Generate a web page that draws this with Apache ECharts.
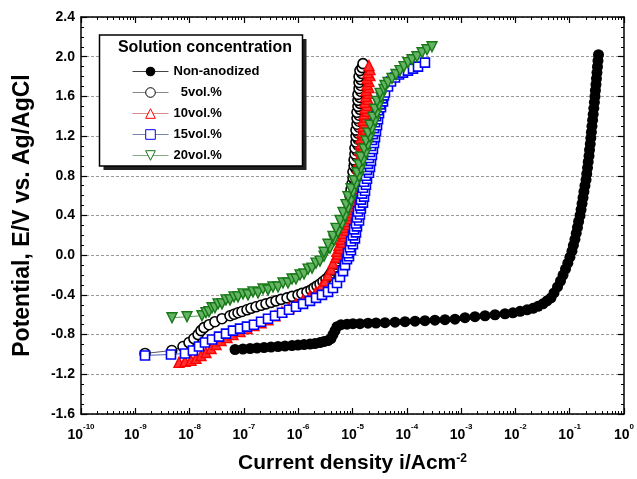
<!DOCTYPE html>
<html>
<head>
<meta charset="utf-8">
<script src="https://cdn.jsdelivr.net/npm/echarts@6/dist/echarts.min.js"></script>
<style>
  html, body { margin: 0; padding: 0; background: #fff; }
  #chart { width: 637px; height: 479px; }
</style>
</head>
<body>
<div id="chart"></div>
<script>
// Potentiodynamic polarization curves: current density (A/cm^2) vs potential (V vs Ag/AgCl)
const FONT = 'Arial, "Liberation Sans", Helvetica, sans-serif';

const seriesNames = ['Non-anodized', '5vol.%', '10vol.%', '15vol.%', '20vol.%'];
const decadeExponents = [-10, -9, -8, -7, -6, -5, -4, -3, -2, -1, 0];
const potentialTicks = [-1.6, -1.2, -0.8, -0.4, 0.0, 0.4, 0.8, 1.2, 1.6, 2.0, 2.4];

// Non-anodized
const naCurrent = [
  6.86e-8, 9.6e-8, 1.30e-7, 1.74e-7, 2.35e-7, 3.16e-7, 4.25e-7, 5.71e-7, 7.70e-7, 9.9e-7,
  1.28e-6, 1.65e-6, 2.04e-6, 2.52e-6, 2.98e-6, 3.54e-6, 4.02e-6, 4.37e-6, 4.76e-6, 5.18e-6,
  6.15e-6, 7.92e-6, 1.02e-5, 1.37e-5, 1.93e-5, 2.71e-5, 3.97e-5, 6.07e-5, 9.27e-5, 1.42e-4,
  2.16e-4, 3.30e-4, 5.05e-4, 7.72e-4, 1.18e-3, 1.80e-3, 2.76e-3, 4.21e-3, 6.44e-3, 9.0e-3,
  1.22e-2, 1.64e-2, 2.11e-2, 2.61e-2, 3.22e-2, 3.82e-2, 4.52e-2,
  5.14e-2, 5.96e-2, 6.77e-2, 7.54e-2, 8.37e-2, 9.23e-2, 1.01e-1, 1.10e-1, 1.17e-1, 1.25e-1,
  1.32e-1, 1.39e-1, 1.46e-1, 1.55e-1, 1.62e-1, 1.69e-1, 1.76e-1, 1.83e-1, 1.91e-1, 2.00e-1,
  2.06e-1, 2.13e-1, 2.19e-1, 2.27e-1, 2.32e-1, 2.39e-1, 2.45e-1, 2.51e-1, 2.57e-1, 2.64e-1,
  2.71e-1, 2.78e-1, 2.85e-1, 2.92e-1, 2.98e-1, 3.05e-1, 3.11e-1, 3.18e-1, 3.25e-1, 3.32e-1, 3.39e-1
];
const naPotential = [
  -0.95, -0.945, -0.94, -0.935, -0.93, -0.925, -0.92, -0.915, -0.91, -0.905,
  -0.90, -0.895, -0.89, -0.88, -0.87, -0.86, -0.84, -0.80, -0.76, -0.72,
  -0.70, -0.695, -0.69, -0.69, -0.685, -0.683, -0.68, -0.675, -0.67, -0.665,
  -0.66, -0.655, -0.65, -0.645, -0.63, -0.62, -0.61, -0.60, -0.59, -0.58,
  -0.565, -0.55, -0.535, -0.515, -0.49, -0.46, -0.43,
  -0.38, -0.32, -0.26, -0.20, -0.14, -0.08, -0.02, 0.04, 0.10, 0.16,
  0.22, 0.28, 0.34, 0.40, 0.46, 0.52, 0.58, 0.64, 0.70, 0.76,
  0.82, 0.88, 0.94, 1.00, 1.06, 1.12, 1.18, 1.24, 1.30, 1.36,
  1.42, 1.48, 1.54, 1.60, 1.66, 1.72, 1.78, 1.84, 1.90, 1.96, 2.02
];

// 5 vol.%
const vol5Current = [
  1.51e-9, 4.7e-9, 7.56e-9, 9.75e-9, 1.20e-8, 1.43e-8, 1.62e-8, 1.84e-8, 2.28e-8, 2.93e-8,
  3.95e-8, 5.55e-8, 6.58e-8, 7.78e-8, 9.23e-8, 1.14e-7, 1.35e-7, 1.67e-7, 2.07e-7, 2.55e-7,
  3.16e-7, 3.90e-7, 4.82e-7, 6.22e-7, 7.70e-7, 9.92e-7, 1.17e-6, 1.45e-6, 1.72e-6, 1.95e-6,
  2.22e-6, 2.52e-6, 2.86e-6, 3.25e-6, 3.69e-6, 4.02e-6, 4.37e-6, 4.76e-6, 4.97e-6, 5.18e-6,
  5.64e-6, 5.89e-6,
  6.41e-6, 6.14e-6, 7.28e-6, 6.97e-6, 7.92e-6, 7.59e-6, 8.26e-6, 7.92e-6, 8.99e-6, 8.26e-6,
  9.38e-6, 8.62e-6, 9.79e-6, 8.99e-6, 1.02e-5, 9.38e-6,
  9.38e-6, 8.99e-6, 9.79e-6, 8.99e-6, 1.02e-5, 9.38e-6, 1.07e-5, 9.79e-6, 1.11e-5, 1.02e-5,
  1.11e-5, 1.02e-5, 1.16e-5, 1.07e-5, 1.16e-5, 1.07e-5, 1.21e-5, 1.11e-5, 1.21e-5, 1.11e-5,
  1.26e-5, 1.16e-5, 1.26e-5, 1.16e-5, 1.26e-5, 1.16e-5, 1.32e-5, 1.21e-5, 1.32e-5, 1.21e-5,
  1.32e-5, 1.21e-5, 1.37e-5, 1.26e-5, 1.37e-5, 1.26e-5, 1.37e-5, 1.26e-5, 1.43e-5, 1.32e-5,
  1.43e-5, 1.32e-5, 1.43e-5, 1.32e-5, 1.50e-5, 1.37e-5, 1.50e-5, 1.56e-5
];
const vol5Potential = [
  -0.99, -0.96, -0.92, -0.88, -0.84, -0.80, -0.76, -0.73, -0.70, -0.67,
  -0.64, -0.61, -0.595, -0.58, -0.567, -0.55, -0.535, -0.52, -0.505, -0.49,
  -0.475, -0.46, -0.445, -0.43, -0.415, -0.40, -0.385, -0.37, -0.35, -0.33,
  -0.31, -0.29, -0.265, -0.24, -0.21, -0.18, -0.15, -0.12, -0.09, -0.06,
  -0.03, 0.00,
  0.03, 0.06, 0.09, 0.12, 0.15, 0.18, 0.21, 0.24, 0.27, 0.30,
  0.33, 0.36, 0.39, 0.42, 0.45, 0.48,
  0.51, 0.54, 0.57, 0.60, 0.63, 0.66, 0.69, 0.72, 0.75, 0.78,
  0.81, 0.84, 0.87, 0.90, 0.93, 0.96, 0.99, 1.02, 1.05, 1.08,
  1.11, 1.14, 1.17, 1.20, 1.23, 1.26, 1.29, 1.32, 1.35, 1.38,
  1.41, 1.44, 1.47, 1.50, 1.53, 1.56, 1.59, 1.62, 1.65, 1.68,
  1.71, 1.74, 1.77, 1.80, 1.83, 1.86, 1.89, 1.93
];

// 10 vol.%
const vol10Current = [
  6.38e-9, 8.23e-9, 1.06e-8, 1.31e-8, 1.62e-8, 2.0e-8, 2.48e-8, 3.06e-8, 3.79e-8, 4.88e-8,
  6.29e-8, 8.48e-8, 1.14e-7, 1.53e-7, 2.07e-7, 2.78e-7, 3.74e-7, 5.03e-7, 6.77e-7, 9.1e-7,
  1.23e-6, 1.65e-6, 2.13e-6, 2.63e-6, 3.11e-6, 3.54e-6, 4.02e-6, 4.37e-6,
  4.97e-6, 5.41e-6, 5.18e-6, 5.89e-6, 5.64e-6, 6.41e-6, 6.14e-6, 6.97e-6, 6.68e-6, 7.59e-6,
  7.28e-6, 8.26e-6, 7.92e-6, 8.62e-6, 8.26e-6, 9.38e-6, 8.99e-6, 9.79e-6, 9.38e-6,
  1.11e-5, 1.02e-5, 1.16e-5, 1.07e-5, 1.21e-5, 1.11e-5, 1.26e-5, 1.16e-5, 1.32e-5, 1.21e-5,
  1.37e-5, 1.26e-5, 1.43e-5, 1.32e-5, 1.50e-5, 1.37e-5, 1.50e-5, 1.37e-5, 1.56e-5, 1.43e-5,
  1.63e-5, 1.43e-5, 1.63e-5, 1.50e-5, 1.70e-5, 1.56e-5, 1.70e-5, 1.56e-5, 1.77e-5, 1.63e-5,
  1.85e-5, 1.70e-5, 1.85e-5, 1.70e-5, 1.93e-5, 1.77e-5, 1.93e-5, 1.77e-5, 2.01e-5, 1.85e-5,
  2.01e-5, 1.85e-5, 2.10e-5, 1.93e-5, 2.10e-5, 2.01e-5
];
const vol10Potential = [
  -1.08, -1.07, -1.06, -1.04, -1.01, -0.98, -0.94, -0.90, -0.86, -0.83,
  -0.80, -0.77, -0.74, -0.71, -0.68, -0.65, -0.61, -0.57, -0.53, -0.49,
  -0.45, -0.41, -0.37, -0.32, -0.26, -0.20, -0.14, -0.08,
  -0.02, 0.01, 0.04, 0.07, 0.10, 0.13, 0.16, 0.19, 0.22, 0.25,
  0.28, 0.31, 0.34, 0.37, 0.40, 0.43, 0.46, 0.49, 0.52,
  0.55, 0.58, 0.61, 0.64, 0.67, 0.70, 0.73, 0.76, 0.79, 0.82,
  0.85, 0.88, 0.91, 0.94, 0.97, 1.00, 1.03, 1.06, 1.09, 1.12,
  1.15, 1.18, 1.21, 1.24, 1.27, 1.30, 1.33, 1.36, 1.39, 1.42,
  1.45, 1.48, 1.51, 1.54, 1.57, 1.60, 1.63, 1.66, 1.69, 1.72,
  1.75, 1.78, 1.81, 1.84, 1.87, 1.91
];

// 15 vol.%
const vol15Current = [
  1.51e-9, 4.54e-9, 8.23e-9, 1.15e-8, 1.49e-8, 1.92e-8, 2.59e-8, 3.48e-8, 4.68e-8, 6.29e-8,
  8.48e-8, 1.14e-7, 1.53e-7, 2.07e-7, 2.78e-7, 3.74e-7, 5.03e-7, 6.77e-7, 9.1e-7, 1.23e-6,
  1.65e-6, 2.13e-6, 2.74e-6, 3.54e-6, 4.37e-6, 5.18e-6, 5.89e-6, 6.70e-6, 7.28e-6, 7.92e-6,
  8.62e-6, 8.26e-6, 9.38e-6, 8.99e-6, 1.02e-5, 9.38e-6, 1.11e-5, 1.02e-5, 1.16e-5, 1.07e-5,
  1.21e-5, 1.16e-5, 1.32e-5, 1.21e-5, 1.37e-5, 1.26e-5, 1.43e-5, 1.37e-5, 1.56e-5, 1.43e-5,
  1.63e-5, 1.50e-5, 1.70e-5, 1.56e-5, 1.77e-5, 1.63e-5, 1.85e-5, 1.77e-5, 2.01e-5, 1.85e-5,
  2.10e-5, 1.93e-5, 2.19e-5, 2.01e-5, 2.28e-5, 2.10e-5, 2.38e-5, 2.19e-5, 2.49e-5, 2.28e-5,
  2.60e-5, 2.38e-5, 2.71e-5, 2.49e-5, 2.83e-5, 2.60e-5, 2.95e-5, 2.71e-5, 3.08e-5, 2.95e-5,
  3.35e-5, 3.21e-5, 3.65e-5, 3.49e-5, 3.80e-5,
  3.97e-5, 4.51e-5, 5.12e-5, 6.07e-5, 7.18e-5, 8.51e-5, 1.05e-4, 1.30e-4, 1.61e-4, 2.16e-4
];
const vol15Potential = [
  -1.01, -1.00, -0.99, -0.96, -0.92, -0.88, -0.85, -0.82, -0.79, -0.76,
  -0.74, -0.72, -0.70, -0.67, -0.64, -0.61, -0.58, -0.55, -0.52, -0.49,
  -0.46, -0.43, -0.40, -0.37, -0.33, -0.28, -0.22, -0.16, -0.10, -0.04,
  -0.01, 0.02, 0.05, 0.08, 0.11, 0.14, 0.17, 0.20, 0.23, 0.26,
  0.29, 0.32, 0.35, 0.38, 0.41, 0.44, 0.47, 0.50, 0.53, 0.56,
  0.59, 0.62, 0.65, 0.68, 0.71, 0.74, 0.77, 0.80, 0.83, 0.86,
  0.89, 0.92, 0.95, 0.98, 1.01, 1.04, 1.07, 1.10, 1.13, 1.16,
  1.19, 1.22, 1.25, 1.28, 1.31, 1.34, 1.37, 1.40, 1.43, 1.46,
  1.49, 1.52, 1.55, 1.58, 1.61,
  1.64, 1.70, 1.75, 1.79, 1.82, 1.84, 1.86, 1.88, 1.90, 1.94
];

// 20 vol.%
const vol20Current = [
  4.74e-9, 8.96e-9, 1.69e-8, 2.0e-8, 2.28e-8, 2.59e-8, 2.93e-8, 3.34e-8, 3.95e-8, 4.68e-8,
  5.55e-8, 6.58e-8, 7.78e-8, 9.63e-8, 1.19e-7, 1.47e-7, 1.82e-7, 2.25e-7, 2.78e-7, 3.43e-7,
  4.25e-7, 5.25e-7, 6.49e-7, 7.70e-7, 9.1e-7, 1.08e-6, 1.28e-6, 1.52e-6, 1.80e-6, 2.13e-6,
  2.52e-6, 2.99e-6, 2.99e-6, 3.85e-6, 3.54e-6, 4.56e-6, 4.37e-6, 5.41e-6, 4.97e-6, 6.41e-6,
  5.89e-6, 7.28e-6, 6.68e-6, 8.26e-6, 7.59e-6, 9.38e-6, 8.26e-6, 1.02e-5, 9.38e-6, 1.16e-5,
  1.07e-5, 1.32e-5, 1.21e-5, 1.43e-5, 1.32e-5, 1.56e-5, 1.43e-5, 1.77e-5, 1.63e-5, 1.93e-5,
  1.77e-5, 2.10e-5, 1.93e-5, 2.28e-5, 2.10e-5, 2.60e-5, 2.38e-5, 2.83e-5, 2.60e-5, 3.08e-5,
  2.83e-5, 3.35e-5, 3.21e-5, 3.80e-5, 3.97e-5, 4.51e-5, 5.34e-5, 6.33e-5, 7.50e-5, 8.88e-5,
  1.05e-4, 1.25e-4, 1.54e-4, 1.91e-4, 2.36e-4, 2.91e-4
];
const vol20Potential = [
  -0.63, -0.62, -0.61, -0.58, -0.57, -0.53, -0.53, -0.49, -0.49, -0.45,
  -0.45, -0.42, -0.42, -0.39, -0.40, -0.37, -0.38, -0.34, -0.35, -0.32,
  -0.32, -0.28, -0.28, -0.24, -0.24, -0.20, -0.19, -0.14, -0.13, -0.08,
  -0.06, -0.01, 0.03, 0.07, 0.11, 0.15, 0.19, 0.23, 0.27, 0.31,
  0.35, 0.39, 0.43, 0.47, 0.51, 0.55, 0.59, 0.63, 0.67, 0.71,
  0.75, 0.79, 0.83, 0.87, 0.91, 0.95, 0.99, 1.03, 1.07, 1.11,
  1.15, 1.19, 1.23, 1.27, 1.31, 1.35, 1.39, 1.43, 1.47, 1.51,
  1.55, 1.59, 1.63, 1.67, 1.71, 1.74, 1.78, 1.82, 1.86, 1.90,
  1.94, 1.97, 2.00, 2.04, 2.07, 2.10
];

// Plot position on a log10 current axis
function toPoints(current, potential) {
  return current.map((c, k) => [Math.log10(c), potential[k]]);
}

// Minor tick positions at 2..9 within each decade
const minorDecadeTicks = [];
for (let n = decadeExponents[0]; n < decadeExponents[decadeExponents.length - 1]; n++) {
  for (let k = 2; k <= 9; k++) minorDecadeTicks.push(n + Math.log10(k));
}

const styles = [
  { symbol: 'circle', size: 11, rotate: 0, fill: '#000', border: '#000', borderWidth: 0, line: '#000', lineWidth: 5, legendLine: '#444', legendFill: '#000' },
  { symbol: 'circle', size: 10, rotate: 0, fill: '#fff', border: '#000', borderWidth: 1.6, line: '#555', lineWidth: 1, legendLine: '#888', legendFill: '#fff' },
  { symbol: 'triangle', size: 10, rotate: 0, fill: '#ff3030', border: '#ff0000', borderWidth: 1.4, line: '#e06060', lineWidth: 1, legendLine: '#d88a8a', legendFill: '#fff' },
  { symbol: 'rect', size: 9, rotate: 0, fill: '#fff', border: '#0000ff', borderWidth: 1.6, line: '#5060b0', lineWidth: 1, legendLine: '#7a84b0', legendFill: '#fff' },
  { symbol: 'triangle', size: 10, rotate: 180, fill: '#63b463', border: '#187818', borderWidth: 1.4, line: '#5a9a5a', lineWidth: 1, legendLine: '#86ae86', legendFill: '#fff' }
];
const currents = [naCurrent, vol5Current, vol10Current, vol15Current, vol20Current];
const potentials = [naPotential, vol5Potential, vol10Potential, vol15Potential, vol20Potential];

const series = seriesNames.map((name, i) => ({
  name: name,
  type: 'line',
  data: toPoints(currents[i], potentials[i]),
  xAxisIndex: 0,
  yAxisIndex: 0,
  symbol: styles[i].symbol,
  symbolSize: styles[i].size,
  symbolRotate: styles[i].rotate,
  showSymbol: true,
  itemStyle: { color: styles[i].fill, borderColor: styles[i].border, borderWidth: styles[i].borderWidth },
  lineStyle: { color: styles[i].line, width: styles[i].lineWidth },
  emphasis: { disabled: true },
  silent: true,
  z: 2 + i
}));

const boldText = { fontFamily: FONT, fontWeight: 'bold', color: '#000' };
const axisLineStyle = { color: '#000', width: 1.5 };

const chart = echarts.init(document.getElementById('chart'), null, { renderer: 'canvas' });
chart.setOption({
  animation: false,
  backgroundColor: '#fff',
  grid: { left: 81, top: 17, right: 13, bottom: 62, containLabel: false },
  xAxis: [
    {
      type: 'value', position: 'bottom',
      min: decadeExponents[0], max: decadeExponents[decadeExponents.length - 1], interval: 1,
      axisLine: { show: true, onZero: false, lineStyle: axisLineStyle },
      axisTick: { show: true, inside: true, length: 6, lineStyle: { color: '#000', width: 1.2 } },
      axisLabel: {
        margin: 9,
        formatter: v => '{b|10}{s|' + Math.round(v) + '}',
        rich: {
          b: Object.assign({ fontSize: 14, verticalAlign: 'bottom', lineHeight: 19 }, boldText),
          s: Object.assign({ fontSize: 8, verticalAlign: 'top', lineHeight: 19 }, boldText)
        }
      },
      splitLine: { show: false },
      name: 'Current density i/Acm{sup|-2}',
      nameLocation: 'middle',
      nameGap: 39,
      nameTextStyle: Object.assign({
        fontSize: 21,
        rich: { sup: Object.assign({ fontSize: 12, verticalAlign: 'top' }, boldText) }
      }, boldText)
    },
    {
      type: 'value', position: 'bottom', min: -10, max: 0,
      axisLine: { show: false, onZero: false },
      axisTick: { show: true, inside: true, length: 3, customValues: minorDecadeTicks, lineStyle: { color: '#000', width: 1 } },
      axisLabel: { show: false },
      splitLine: { show: false }
    },
    {
      type: 'value', position: 'top', min: -10, max: 0, interval: 1,
      axisLine: { show: true, onZero: false, lineStyle: axisLineStyle },
      axisTick: { show: true, inside: true, length: 6, lineStyle: { color: '#000', width: 1.2 } },
      axisLabel: { show: false },
      splitLine: { show: false }
    },
    {
      type: 'value', position: 'top', min: -10, max: 0,
      axisLine: { show: false, onZero: false },
      axisTick: { show: true, inside: true, length: 3, customValues: minorDecadeTicks, lineStyle: { color: '#000', width: 1 } },
      axisLabel: { show: false },
      splitLine: { show: false }
    }
  ],
  yAxis: [
    {
      type: 'value', position: 'left',
      min: potentialTicks[0], max: potentialTicks[potentialTicks.length - 1], interval: 0.4,
      axisLine: { show: true, onZero: false, lineStyle: axisLineStyle },
      axisTick: { show: true, inside: true, length: 6, lineStyle: { color: '#000', width: 1.2 } },
      minorTick: { show: true, splitNumber: 4, length: 3, lineStyle: { color: '#000', width: 1 } },
      axisLabel: Object.assign({ fontSize: 14, margin: 6, formatter: v => v.toFixed(1) }, boldText),
      splitLine: { show: true, lineStyle: { color: '#999', width: 1, type: [3, 2] } },
      name: 'Potential, E/V vs. Ag/AgCl',
      nameLocation: 'middle',
      nameGap: 47,
      nameTextStyle: Object.assign({ fontSize: 23 }, boldText)
    },
    {
      type: 'value', position: 'right',
      min: -1.6, max: 2.4, interval: 0.4,
      axisLine: { show: true, onZero: false, lineStyle: axisLineStyle },
      axisTick: { show: true, inside: true, length: 6, lineStyle: { color: '#000', width: 1.2 } },
      minorTick: { show: true, splitNumber: 4, length: 3, lineStyle: { color: '#000', width: 1 } },
      axisLabel: { show: false },
      splitLine: { show: false }
    }
  ],
  legend: {
    orient: 'vertical',
    left: 132,
    top: 65,
    padding: 0,
    itemWidth: 36,
    itemHeight: 12,
    itemGap: 8,
    z: 20,
    selectedMode: false,
    lineStyle: { width: 1 },
    textStyle: Object.assign({ fontSize: 13 }, boldText),
    formatter: name => (name === '5vol.%' ? '  ' + name : name),
    data: seriesNames.map((name, i) => ({
      name: name,
      lineStyle: { color: styles[i].legendLine, width: 1 },
      itemStyle: { color: styles[i].legendFill, borderColor: styles[i].border, borderWidth: i === 0 ? 0 : 1 }
    }))
  },
  graphic: [
    { type: 'rect', z: 15, silent: true, shape: { x: 103.5, y: 39, width: 203, height: 131 }, style: { fill: '#222' } },
    { type: 'rect', z: 16, silent: true, shape: { x: 99.5, y: 35, width: 203, height: 131 }, style: { fill: '#fff', stroke: '#000', lineWidth: 1.5 } },
    {
      type: 'text', z: 17, silent: true, x: 205, y: 48,
      style: { text: 'Solution concentration', font: 'bold 16px ' + FONT, fill: '#000', align: 'center', verticalAlign: 'middle' }
    }
  ],
  series: series
});
</script>
</body>
</html>
